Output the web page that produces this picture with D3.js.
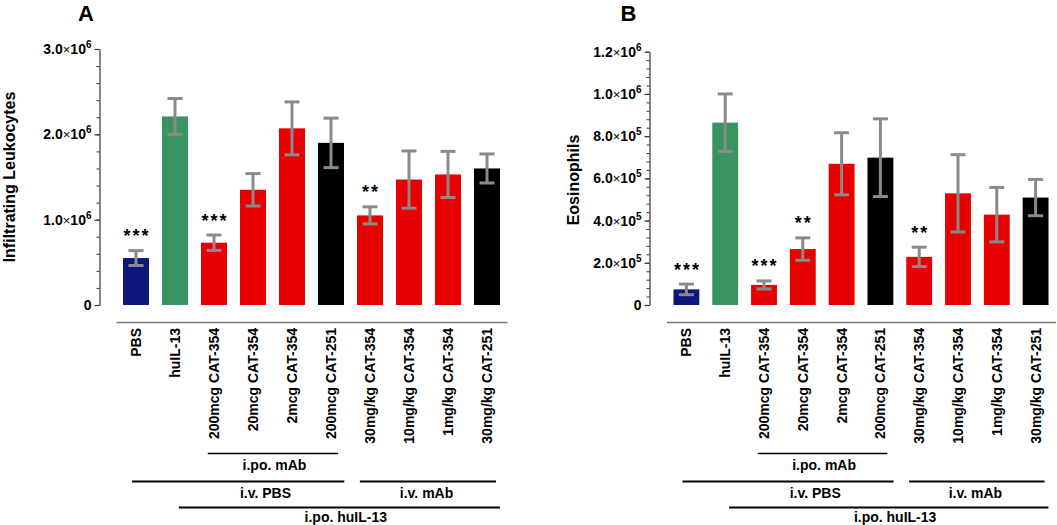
<!DOCTYPE html>
<html><head><meta charset="utf-8">
<script src="https://cdn.jsdelivr.net/npm/d3@7"></script>
<style>
body{margin:0;background:#fff;}
svg{display:block;font-family:"Liberation Sans",Arial,sans-serif;}
</style></head>
<body><svg id="c" width="1057" height="525"></svg>
<script>
const categories = ["PBS","huIL-13","200mcg CAT-354","20mcg CAT-354","2mcg CAT-354","200mcg CAT-251","30mg/kg CAT-354","10mg/kg CAT-354","1mg/kg CAT-354","30mg/kg CAT-251"];
const leukoMean = [0.55e6, 2.21e6, 0.73e6, 1.35e6, 2.07e6, 1.90e6, 1.05e6, 1.47e6, 1.53e6, 1.60e6];
const leukoErr  = [0.087e6, 0.21e6, 0.09e6, 0.19e6, 0.31e6, 0.29e6, 0.10e6, 0.335e6, 0.27e6, 0.17e6];
const leukoSig  = ["***","","***","","","","**","","",""];
const eosMean = [0.074e6, 0.864e6, 0.095e6, 0.265e6, 0.669e6, 0.698e6, 0.228e6, 0.529e6, 0.428e6, 0.509e6];
const eosErr  = [0.025e6, 0.136e6, 0.019e6, 0.053e6, 0.147e6, 0.184e6, 0.046e6, 0.183e6, 0.129e6, 0.086e6];
const eosSig  = ["***","","***","**","","","**","","",""];
const groupColor = ["navy","green","red","red","red","black","red","red","red","black"];
const leukoTicks = [0, 1e6, 2e6, 3e6];
const eosTicks = [0, 2e5, 4e5, 6e5, 8e5, 1e6, 1.2e6];
// bracket spans in category-step units
const bracketLabels = ["i.po. mAb","i.v. PBS","i.v. mAb","i.po. huIL-13"];
const bracketFrom = [2.34, 0.40, 6.24, 1.60];
const bracketTo   = [5.68, 5.84, 9.73, 9.83];
const bracketTextAt = [4.05, 3.82, 7.95, 5.88];
const bracketRow = [0, 1, 1, 2];

const palette = {navy:"#0c167a", green:"#3a9461", red:"#e60000", black:"#000000"};
const FONT = "'Liberation Sans', Arial, sans-serif";
const svg = d3.select("#c");

function fmtTick(v, sel){
  sel.text(null);
  if (v === 0){ sel.text("0"); return; }
  const e = Math.floor(Math.log10(v)+1e-9);
  const m = v/Math.pow(10,e);
  sel.append("tspan").text(m.toFixed(1));
  sel.append("tspan").attr("font-weight","normal").attr("font-size","13px").text("\u00d7");
  sel.append("tspan").text("10");
  sel.append("tspan").attr("font-size","10px").attr("dy","-6").text(e);
}

function panel(o){
  const x = d3.scaleBand().domain(categories).range([o.x0, o.x1]).paddingInner(1/3).paddingOuter(1/6);
  const y = d3.scaleLinear().domain([0, o.max]).range([305, o.ytop]);
  const g = svg.append("g");
  // minor ticks
  const minor = d3.range(0, o.max + o.minorStep/2, o.minorStep);
  g.append("g").attr("transform",`translate(${o.ax},0)`)
    .call(d3.axisLeft(y).tickValues(minor).tickSize(3).tickFormat(""))
    .call(s=>{s.select(".domain").remove(); s.selectAll("line").attr("stroke","#333").attr("stroke-width",1);});
  const ya = g.append("g").attr("transform",`translate(${o.ax},0)`)
    .call(d3.axisLeft(y).tickValues(o.ticks).tickSize(5).tickSizeOuter(0).tickPadding(3));
  ya.attr("font-family", FONT).attr("font-size", 14);
  ya.select(".domain").attr("stroke","#333").attr("stroke-width",1.2);
  ya.selectAll("line").attr("stroke","#333").attr("stroke-width",1.2);
  ya.selectAll("text").attr("font-size","14px").attr("font-weight","bold").attr("fill","#000")
    .each(function(d){ fmtTick(d, d3.select(this)); });
  // bars
  g.selectAll("rect.bar").data(categories).join("rect")
    .attr("x", d=>x(d)).attr("width", x.bandwidth())
    .attr("y", (d,i)=>y(o.mean[i])).attr("height",(d,i)=>y(0)-y(o.mean[i]))
    .attr("fill",(d,i)=>palette[groupColor[i]]);
  // error bars
  const eb = g.selectAll("g.eb").data(categories).join("g");
  const cw = 7.5;
  eb.append("line").attr("x1",d=>x(d)+x.bandwidth()/2).attr("x2",d=>x(d)+x.bandwidth()/2)
    .attr("y1",(d,i)=>y(o.mean[i]+o.err[i])).attr("y2",(d,i)=>y(o.mean[i]-o.err[i]));
  eb.append("line").attr("x1",d=>x(d)+x.bandwidth()/2-cw).attr("x2",d=>x(d)+x.bandwidth()/2+cw)
    .attr("y1",(d,i)=>y(o.mean[i]+o.err[i])).attr("y2",(d,i)=>y(o.mean[i]+o.err[i]));
  eb.append("line").attr("x1",d=>x(d)+x.bandwidth()/2-cw).attr("x2",d=>x(d)+x.bandwidth()/2+cw)
    .attr("y1",(d,i)=>y(o.mean[i]-o.err[i])).attr("y2",(d,i)=>y(o.mean[i]-o.err[i]));
  eb.selectAll("line").attr("stroke","#8a8a8a").attr("stroke-width",3);
  // significance
  g.selectAll("text.sig").data(categories).join("text")
    .attr("x", d=>x(d)+x.bandwidth()/2 + 1)
    .attr("y",(d,i)=>y(o.mean[i]+o.err[i]) - 8.5)
    .attr("text-anchor","middle").attr("font-size","18px").attr("font-weight","bold")
    .attr("letter-spacing","2px")
    .text((d,i)=>o.sig[i]);
  // x axis line
  g.append("line").attr("x1",o.x0).attr("x2",o.x1+1).attr("y1",322.5).attr("y2",322.5)
    .attr("stroke","#777").attr("stroke-width",1.5);
  // category labels
  g.selectAll("text.cat").data(categories).join("text")
    .attr("transform", d=>`translate(${x(d)+x.bandwidth()/2},328) rotate(-90)`)
    .attr("dy","0.36em").attr("text-anchor","end")
    .attr("font-size","14px").attr("font-weight","bold").text(d=>d);
  // brackets
  const step = x.step();
  const rowLineY = [453.5, 481.5, 507.5];
  const rowTextY = [469.5, 497.5, 522];
  bracketLabels.forEach((lab,i)=>{
    g.append("line").attr("x1",o.x0+bracketFrom[i]*step).attr("x2",o.x0+bracketTo[i]*step)
      .attr("y1",rowLineY[bracketRow[i]]).attr("y2",rowLineY[bracketRow[i]])
      .attr("stroke","#000").attr("stroke-width", bracketRow[i]===0?1.5:2);
    g.append("text").attr("x",o.x0+bracketTextAt[i]*step).attr("y",rowTextY[bracketRow[i]])
      .attr("text-anchor","middle").attr("font-size","14px").attr("font-weight","bold").text(lab);
  });
  // y title
  g.append("text").attr("transform",`translate(${o.titleX},${o.titleY}) rotate(-90)`)
    .attr("text-anchor","middle").attr("dy","0.35em")
    .attr("font-size","16px").attr("font-weight","bold").text(o.ytitle);
  // panel letter
  g.append("text").attr("x",o.letterX).attr("y",21).attr("text-anchor","middle")
    .attr("font-size","22px").attr("font-weight","bold").text(o.letter);
}

panel({x0:116.5, x1:506.5, ax:99.5, max:3e6, ytop:49, ticks:leukoTicks, minorStep:2e5,
  mean:leukoMean, err:leukoErr, sig:leukoSig, ytitle:"Infiltrating Leukocytes", titleX:9, titleY:177,
  letter:"A", letterX:86});
panel({x0:667, x1:1055, ax:649.5, max:1.2e6, ytop:51.7, ticks:eosTicks, minorStep:4e4,
  mean:eosMean, err:eosErr, sig:eosSig, ytitle:"Eosinophils", titleX:573, titleY:180,
  letter:"B", letterX:628.5});
</script></body></html>
